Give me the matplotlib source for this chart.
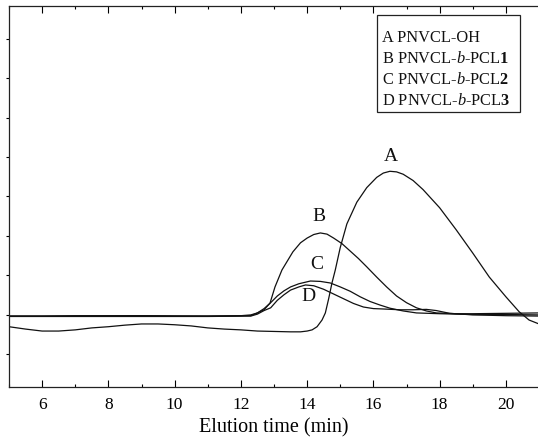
import matplotlib
matplotlib.use("Agg")
import matplotlib.pyplot as plt
from matplotlib.patches import Rectangle
from matplotlib.ticker import MultipleLocator, NullFormatter

plt.rcParams["font.family"] = ["Liberation Serif", "DejaVu Serif"]
plt.rcParams["mathtext.fontset"] = "custom"
plt.rcParams["mathtext.rm"] = "Liberation Serif"
plt.rcParams["mathtext.it"] = "Liberation Serif:italic"
plt.rcParams["mathtext.bf"] = "Liberation Serif:bold"

# ---- GPC traces (detector signal, arbitrary units) ----
t_a = [5.0, 5.5, 6.0, 6.5, 7.0, 7.5, 8.0, 8.5, 9.0, 9.5, 10.0, 10.5, 11.0, 11.5,
       12.0, 12.5, 13.0, 13.5, 13.8, 14.0, 14.15, 14.3, 14.45, 14.55, 14.65, 14.75,
       14.85, 15.0, 15.2, 15.5, 15.8, 16.1, 16.3, 16.5, 16.7, 16.9, 17.2, 17.5, 18.0,
       18.5, 19.0, 19.5, 20.0, 20.4, 20.7, 21.0]
sig_a = [1.69, 1.63, 1.58, 1.58, 1.61, 1.66, 1.69, 1.73, 1.76, 1.76, 1.74, 1.71, 1.66, 1.63,
         1.61, 1.58, 1.57, 1.56, 1.56, 1.58, 1.61, 1.69, 1.86, 2.04, 2.40, 2.80,
         3.13, 3.70, 4.30, 4.85, 5.22, 5.48, 5.59, 5.635, 5.62, 5.56, 5.40, 5.17, 4.71,
         4.15, 3.56, 2.95, 2.45, 2.07, 1.86, 1.76]

t_b = [5.0, 6.0, 7.0, 8.0, 9.0, 10.0, 11.0, 12.0, 12.3, 12.5, 12.7, 12.88, 13.03,
       13.24, 13.57, 13.8, 14.0, 14.2, 14.4, 14.6, 14.8, 15.05, 15.3, 15.55, 15.8,
       16.1, 16.4, 16.7, 17.0, 17.3, 17.6, 17.9, 18.5, 19.0, 20.0, 21.0]
sig_b = [1.96, 1.96, 1.97, 1.97, 1.97, 1.96, 1.96, 1.97, 1.99, 2.04, 2.12, 2.29, 2.70,
         3.13, 3.59, 3.82, 3.94, 4.03, 4.07, 4.04, 3.94, 3.80, 3.61, 3.42, 3.21,
         2.95, 2.70, 2.47, 2.30, 2.17, 2.09, 2.04, 2.02, 2.02, 2.03, 2.04]

t_c = [5.0, 7.0, 9.0, 11.0, 12.3, 12.5, 12.7, 12.9, 13.1, 13.3, 13.5, 13.75, 14.1,
       14.4, 14.7, 15.0, 15.3, 15.6, 15.9, 16.2, 16.5, 16.9, 17.3, 18.0, 19.0, 20.0, 21.0]
sig_c = [1.96, 1.96, 1.97, 1.96, 1.97, 2.04, 2.15, 2.30, 2.47, 2.60, 2.70, 2.78, 2.85,
         2.84, 2.80, 2.70, 2.59, 2.45, 2.33, 2.24, 2.16, 2.09, 2.04, 2.02, 2.00, 2.00, 1.99]

t_d = [5.0, 7.0, 9.0, 11.0, 12.3, 12.5, 12.7, 12.9, 13.1, 13.3, 13.5, 13.75, 13.95,
       14.2, 14.5, 14.8, 15.1, 15.4, 15.7, 16.0, 16.3, 16.8, 17.2, 17.6, 17.9, 18.3,
       19.0, 20.0, 21.0]
sig_d = [1.95, 1.95, 1.95, 1.95, 1.96, 2.01, 2.10, 2.17, 2.36, 2.50, 2.62, 2.70, 2.75,
         2.73, 2.64, 2.52, 2.40, 2.28, 2.19, 2.15, 2.14, 2.12, 2.12, 2.13, 2.10, 2.03,
         1.99, 1.97, 1.96]

curve_labels = ["A", "B", "C", "D"]
label_pos = [(16.53, 6.0), (14.35, 4.5), (14.3, 3.26), (14.03, 2.45)]
legend_labels = ["A PNVCL-OH",
                 r"B PNVCL-$\mathit{b}$-PCL$\mathbf{1}$",
                 r"C PNVCL-$\mathit{b}$-PCL$\mathbf{2}$",
                 r"D PNVCL-$\mathit{b}$-PCL$\mathbf{3}$"]

fig = plt.figure(figsize=(5.38, 4.47), dpi=100)
ax = fig.add_axes([9 / 538, 60 / 447, 530 / 538, 381 / 447])

for t, s in [(t_a, sig_a), (t_b, sig_b), (t_c, sig_c), (t_d, sig_d)]:
    ax.plot(t, s, color="#111111", lw=0.9)

for lab, (x, y) in zip(curve_labels, label_pos):
    ax.text(x, y, lab, fontsize=14, ha="center", va="center", color="#111111")

ax.set_xlim(5, 21)
ax.set_ylim(0.16, 9.83)

ax.xaxis.set_major_locator(MultipleLocator(2))
ax.xaxis.set_minor_locator(MultipleLocator(1))
ax.yaxis.set_major_locator(MultipleLocator(1))
ax.yaxis.set_major_formatter(NullFormatter())
ax.tick_params(axis="x", which="major", direction="in", length=5, width=0.8,
               top=True, labelsize=12.5, pad=7)
ax.tick_params(axis="x", which="minor", direction="in", length=2.5, width=0.8, top=True)
ax.tick_params(axis="y", which="major", direction="out", length=2.5, width=0.8)
for sp in ax.spines.values():
    sp.set_linewidth(0.9)
    sp.set_color("#222222")

ax.set_xlabel("Elution time (min)", fontsize=14.5, labelpad=4)

# key box in the upper right, text only
ax.add_patch(Rectangle((0.694, 0.722), 0.270, 0.255, transform=ax.transAxes,
                       fill=False, edgecolor="#222222", lw=0.9))
for i, lab in enumerate(legend_labels):
    ax.text(0.704, 0.9055 - i * 0.0551, lab, transform=ax.transAxes,
            fontsize=11.8, ha="left", va="baseline", color="#111111")

fig.savefig("out.png", dpi=100)
